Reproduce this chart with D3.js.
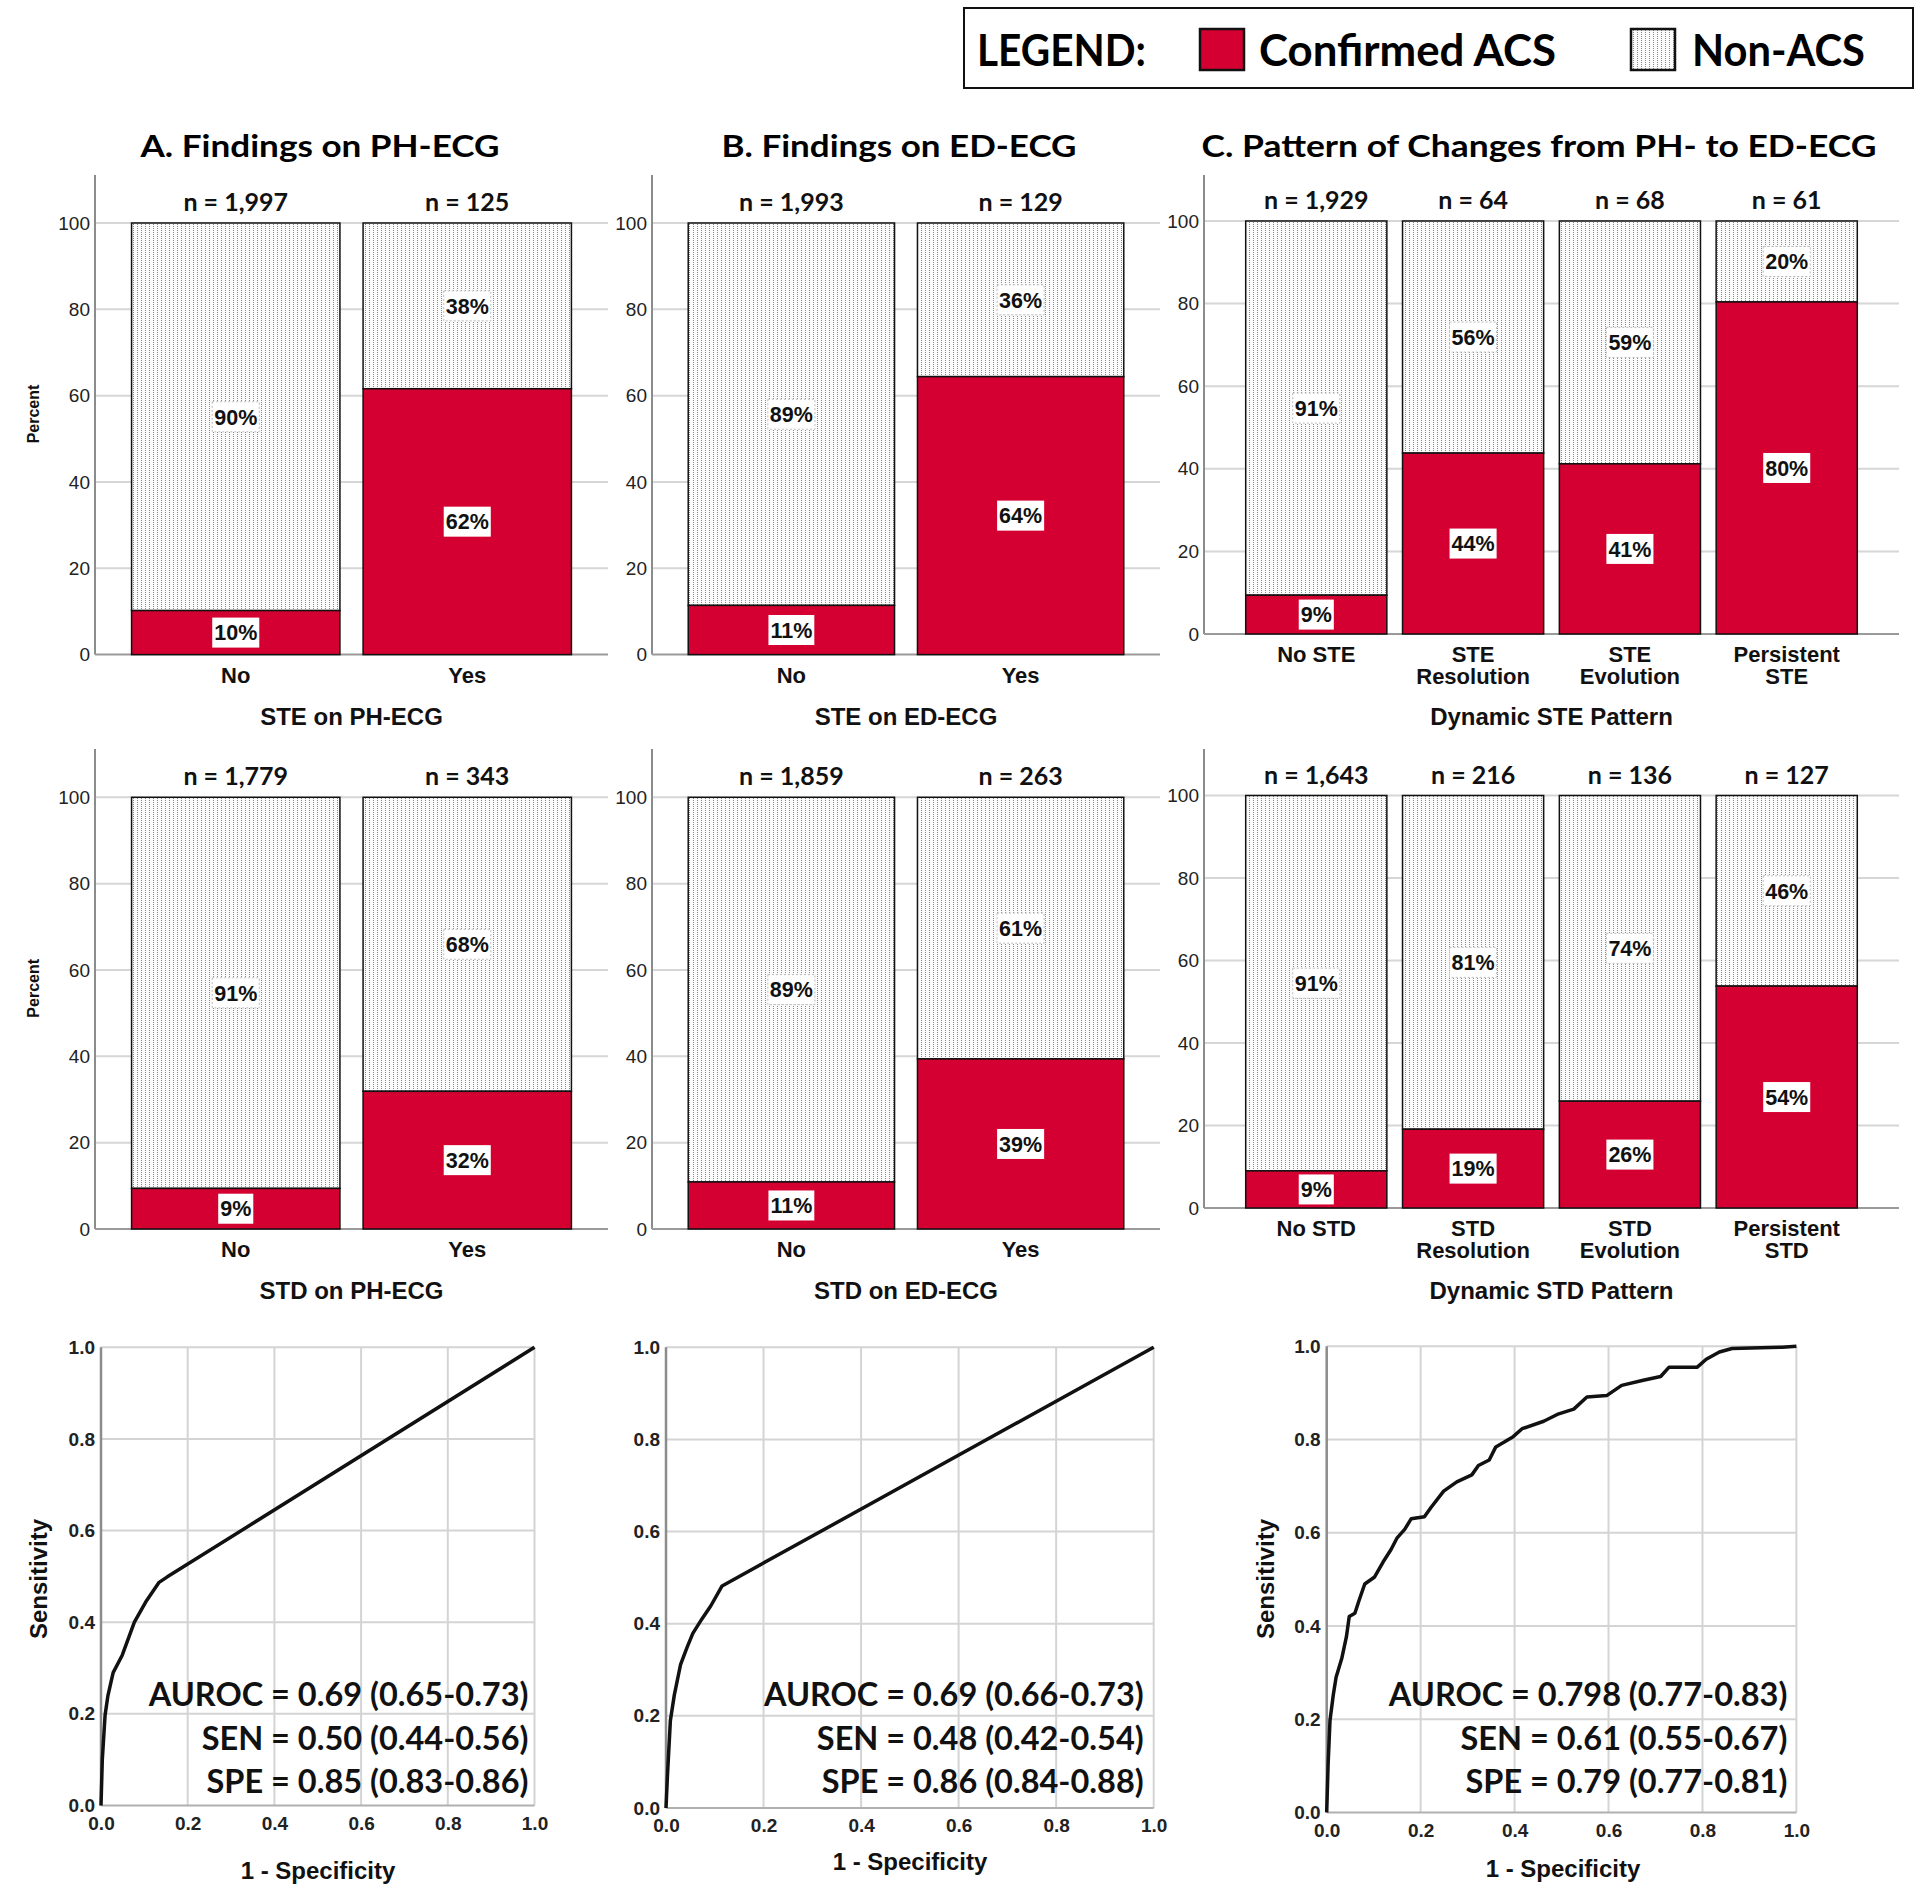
<!DOCTYPE html>
<html><head><meta charset="utf-8">
<script src="https://cdn.jsdelivr.net/npm/d3@7"></script>
<style>body{margin:0;background:#fff} svg{display:block}</style>
</head><body>
<svg id="c" width="1920" height="1891"></svg>
<script>
// ---------------- DATA ----------------
const legendLabel = "LEGEND:";
const legendItems = ["Confirmed ACS", "Non-ACS"];
const panelTitles = ["A. Findings on PH-ECG", "B. Findings on ED-ECG", "C. Pattern of Changes from PH- to ED-ECG"];
const binaryCats = [["No"], ["Yes"]];
const steDynCats = [["No STE"], ["STE", "Resolution"], ["STE", "Evolution"], ["Persistent", "STE"]];
const stdDynCats = [["No STD"], ["STD", "Resolution"], ["STD", "Evolution"], ["Persistent", "STD"]];
const axisTitlesRow1 = ["STE on PH-ECG", "STE on ED-ECG", "Dynamic STE Pattern"];
const axisTitlesRow2 = ["STD on PH-ECG", "STD on ED-ECG", "Dynamic STD Pattern"];
const yLabel = "Percent";
const yTicks = [0, 20, 40, 60, 80, 100];

// percent Confirmed ACS per category (Non-ACS = remainder)
const acsSTEph = [10.2, 61.6];
const acsSTEed = [11.4, 64.4];
const acsSTEdyn = [9.4, 43.8, 41.2, 80.4];
const acsSTDph = [9.4, 31.9];
const acsSTDed = [10.9, 39.4];
const acsSTDdyn = [9.0, 19.1, 25.9, 53.8];
// n per category
const nSTEph = [1997, 125];
const nSTEed = [1993, 129];
const nSTEdyn = [1929, 64, 68, 61];
const nSTDph = [1779, 343];
const nSTDed = [1859, 263];
const nSTDdyn = [1643, 216, 136, 127];

// ROC curves: [1 - specificity, sensitivity]
const rocTicks = [0, 0.2, 0.4, 0.6, 0.8, 1.0];
const rocXLabel = "1 - Specificity";
const rocYLabel = "Sensitivity";
const rocPH = [[0,0],[0.003,0.1],[0.0094,0.197],[0.016,0.24],[0.028,0.29],[0.049,0.328],[0.077,0.40],[0.105,0.447],[0.134,0.487],[0.153,0.499],[1,1]];
const rocED = [[0,0],[0.003,0.071],[0.009,0.19],[0.017,0.245],[0.03,0.312],[0.043,0.348],[0.055,0.379],[0.074,0.411],[0.092,0.439],[0.115,0.482],[1,1]];
const rocDyn = [[0,0],[0.003,0.103],[0.007,0.197],[0.014,0.252],[0.02,0.29],[0.032,0.33],[0.042,0.377],[0.048,0.42],[0.06,0.427],[0.069,0.455],[0.081,0.49],[0.102,0.505],[0.12,0.537],[0.137,0.564],[0.15,0.589],[0.166,0.607],[0.18,0.63],[0.208,0.634],[0.222,0.654],[0.249,0.689],[0.277,0.709],[0.309,0.724],[0.323,0.744],[0.346,0.756],[0.36,0.784],[0.379,0.795],[0.397,0.806],[0.416,0.823],[0.462,0.839],[0.494,0.855],[0.526,0.865],[0.554,0.891],[0.596,0.894],[0.628,0.916],[0.674,0.927],[0.711,0.935],[0.729,0.955],[0.789,0.955],[0.808,0.972],[0.836,0.9875],[0.863,0.995],[0.97,0.998],[1,1]];
const statsPH = ["AUROC = 0.69 (0.65-0.73)", "SEN = 0.50 (0.44-0.56)", "SPE = 0.85 (0.83-0.86)"];
const statsED = ["AUROC = 0.69 (0.66-0.73)", "SEN = 0.48 (0.42-0.54)", "SPE = 0.86 (0.84-0.88)"];
const statsDyn = ["AUROC = 0.798 (0.77-0.83)", "SEN = 0.61 (0.55-0.67)", "SPE = 0.79 (0.77-0.81)"];

// ---------------- STYLE ----------------
const ARIAL = "'Liberation Sans', Arial, sans-serif";
const CAL = "Lato, 'Open Sans', sans-serif";
const RED = "#d40031";
const svg = d3.select("#c");

const defs = svg.append("defs");
const pat = defs.append("pattern").attr("id", "dots").attr("patternUnits", "userSpaceOnUse")
  .attr("width", 4).attr("height", 2);
pat.append("rect").attr("width", 4).attr("height", 2).attr("fill", "#fbfbfb");
pat.append("rect").attr("x", 1).attr("y", 0).attr("width", 1).attr("height", 1).attr("fill", "#8a8a8a");

function fitText(sel, len) {
  sel.attr("textLength", len).attr("lengthAdjust", "spacingAndGlyphs");
}

// ---------------- LEGEND ----------------
const lg = svg.append("g");
lg.append("rect").attr("x", 964).attr("y", 8).attr("width", 949).attr("height", 80)
  .attr("fill", "#fff").attr("stroke", "#111").attr("stroke-width", 2);
lg.append("text").attr("x", 977).attr("y", 66).attr("font-family", CAL).attr("font-weight", 700)
  .attr("font-size", 44).text(legendLabel).call(fitText, 169);
lg.append("rect").attr("x", 1200).attr("y", 29).attr("width", 44).attr("height", 41)
  .attr("fill", RED).attr("stroke", "#111").attr("stroke-width", 2.5);
lg.append("text").attr("x", 1259).attr("y", 66).attr("font-family", CAL).attr("font-weight", 700)
  .attr("font-size", 44).text(legendItems[0]).call(fitText, 297);
lg.append("rect").attr("x", 1631).attr("y", 29).attr("width", 44).attr("height", 41)
  .attr("fill", "url(#dots)").attr("stroke", "#111").attr("stroke-width", 2.5);
lg.append("text").attr("x", 1692).attr("y", 66).attr("font-family", CAL).attr("font-weight", 700)
  .attr("font-size", 44).text(legendItems[1]).call(fitText, 173);

// ---------------- TITLES ----------------
const titleLayout = [{cx: 320, w: 359}, {cx: 899, w: 355}, {cx: 1539, w: 675}];
panelTitles.forEach((t, i) => {
  svg.append("text").attr("x", titleLayout[i].cx).attr("y", 157).attr("text-anchor", "middle")
    .attr("font-family", CAL).attr("font-weight", 700).attr("font-size", 30).text(t)
    .call(fitText, titleLayout[i].w);
});

// ---------------- BAR PANELS ----------------
function barPanel(o) {
  const g = svg.append("g");
  const k = o.cats.length;
  const x = d3.scaleBand().domain(d3.range(k)).range([o.x0, o.x1])
    .paddingInner(0.1).paddingOuter(k === 2 ? 0.158 : 0.266);
  const y = d3.scaleLinear().domain([0, 100]).range([o.y0, o.y100]);

  g.selectAll("line.grid").data(yTicks.filter(t => t > 0)).join("line")
    .attr("x1", o.x0).attr("x2", o.x1).attr("y1", d => y(d)).attr("y2", d => y(d))
    .attr("stroke", "#d6d6d6").attr("stroke-width", 2);

  const ax = g.append("g").attr("transform", `translate(${o.x0},0)`)
    .call(d3.axisLeft(y).tickValues(yTicks).tickSize(0).tickPadding(5));
  ax.select(".domain").remove();
  ax.selectAll("text").attr("font-family", ARIAL).attr("font-size", 19).attr("fill", "#222");

  g.append("line").attr("x1", o.x0).attr("x2", o.x0).attr("y1", o.top).attr("y2", o.y0)
    .attr("stroke", "#8c8c8c").attr("stroke-width", 2);
  g.append("line").attr("x1", o.x0).attr("x2", o.x1).attr("y1", o.y0).attr("y2", o.y0)
    .attr("stroke", "#9a9a9a").attr("stroke-width", 2);

  const bars = g.selectAll("g.bar").data(o.acs).join("g");
  bars.append("rect").attr("x", (d, i) => x(i)).attr("width", x.bandwidth())
    .attr("y", y(100)).attr("height", d => y(d) - y(100))
    .attr("fill", "url(#dots)").attr("stroke", "#111").attr("stroke-width", 1.5);
  bars.append("rect").attr("x", (d, i) => x(i)).attr("width", x.bandwidth())
    .attr("y", d => y(d)).attr("height", d => y(0) - y(d))
    .attr("fill", RED).attr("stroke", "#111").attr("stroke-width", 1.5);

  function pctLabel(cx, cy, txt, dashed) {
    const lgp = g.append("g");
    const r = lgp.append("rect");
    const t = lgp.append("text").attr("x", cx).attr("y", cy).attr("dy", "0.36em")
      .attr("text-anchor", "middle").attr("font-family", ARIAL).attr("font-weight", 700)
      .attr("font-size", 21.5).attr("fill", "#111").text(txt);
    const b = t.node().getBBox();
    r.attr("x", b.x - 2).attr("y", cy - 15).attr("width", b.width + 4).attr("height", 30)
      .attr("fill", "#fff").attr("stroke", dashed ? "#bdbdbd" : "none")
      .attr("stroke-dasharray", dashed ? "2,2" : null).attr("stroke-width", 1);
  }
  o.acs.forEach((v, i) => {
    const cx = x(i) + x.bandwidth() / 2;
    pctLabel(cx, y(v / 2), Math.round(v) + "%", false);
    pctLabel(cx, y((100 + v) / 2), Math.round(100 - v) + "%", true);
  });

  const fmt = d3.format(",");
  g.selectAll("text.n").data(o.n).join("text")
    .attr("x", (d, i) => x(i) + x.bandwidth() / 2).attr("y", o.y100 - 12)
    .attr("text-anchor", "middle").attr("font-family", CAL).attr("font-weight", 700)
    .attr("font-size", 25).attr("fill", "#111").text(d => "n = " + fmt(d));

  o.cats.forEach((lines, i) => {
    const t = g.append("text").attr("text-anchor", "middle").attr("font-family", ARIAL)
      .attr("font-weight", 700).attr("font-size", 22).attr("fill", "#111");
    lines.forEach((ln, j) => {
      t.append("tspan").attr("x", x(i) + x.bandwidth() / 2).attr("y", o.y0 + 28 + j * 22).text(ln);
    });
  });

  g.append("text").attr("x", (o.x0 + o.x1) / 2).attr("y", o.titleY).attr("text-anchor", "middle")
    .attr("font-family", ARIAL).attr("font-weight", 700).attr("font-size", 24).attr("fill", "#111")
    .text(o.axisTitle);

  if (o.showY) {
    g.append("text").attr("transform", `translate(33,${o.y100 + 191}) rotate(-90)`)
      .attr("text-anchor", "middle").attr("dy", "0.35em").attr("font-family", ARIAL)
      .attr("font-weight", 700).attr("font-size", 16).attr("fill", "#111").text(yLabel);
  }
}

const cols = [{x0: 95, x1: 608}, {x0: 652, x1: 1160}, {x0: 1204, x1: 1899}];
const row1 = {top: 175, titleY: 725, ab: {y0: 654.6, y100: 223}, c: {y0: 634, y100: 221}};
const row2 = {top: 749, titleY: 1298.5, ab: {y0: 1229, y100: 797.3}, c: {y0: 1208, y100: 795.5}};

barPanel({...cols[0], ...row1.ab, top: row1.top, titleY: row1.titleY, cats: binaryCats, acs: acsSTEph, n: nSTEph, axisTitle: axisTitlesRow1[0], showY: true});
barPanel({...cols[1], ...row1.ab, top: row1.top, titleY: row1.titleY, cats: binaryCats, acs: acsSTEed, n: nSTEed, axisTitle: axisTitlesRow1[1]});
barPanel({...cols[2], ...row1.c, top: row1.top, titleY: row1.titleY, cats: steDynCats, acs: acsSTEdyn, n: nSTEdyn, axisTitle: axisTitlesRow1[2]});
barPanel({...cols[0], ...row2.ab, top: row2.top, titleY: row2.titleY, cats: binaryCats, acs: acsSTDph, n: nSTDph, axisTitle: axisTitlesRow2[0], showY: true});
barPanel({...cols[1], ...row2.ab, top: row2.top, titleY: row2.titleY, cats: binaryCats, acs: acsSTDed, n: nSTDed, axisTitle: axisTitlesRow2[1]});
barPanel({...cols[2], ...row2.c, top: row2.top, titleY: row2.titleY, cats: stdDynCats, acs: acsSTDdyn, n: nSTDdyn, axisTitle: axisTitlesRow2[2]});

// ---------------- ROC PANELS ----------------
function rocPanel(o) {
  const g = svg.append("g");
  const x = d3.scaleLinear().domain([0, 1]).range([o.x0, o.x1]);
  const y = d3.scaleLinear().domain([0, 1]).range([o.y0, o.y1]);
  g.selectAll("line.vg").data(rocTicks.filter(t => t > 0)).join("line")
    .attr("x1", d => x(d)).attr("x2", d => x(d)).attr("y1", o.y0).attr("y2", o.y1)
    .attr("stroke", "#d4d4d4").attr("stroke-width", 2);
  g.selectAll("line.hg").data(rocTicks.filter(t => t > 0)).join("line")
    .attr("x1", o.x0).attr("x2", o.x1).attr("y1", d => y(d)).attr("y2", d => y(d))
    .attr("stroke", "#d4d4d4").attr("stroke-width", 2);
  g.append("line").attr("x1", o.x0).attr("x2", o.x1).attr("y1", o.y0).attr("y2", o.y0)
    .attr("stroke", "#b0b0b0").attr("stroke-width", 2);
  g.append("line").attr("x1", o.x0).attr("x2", o.x0).attr("y1", o.y0).attr("y2", o.y1)
    .attr("stroke", "#8c8c8c").attr("stroke-width", 2.5);

  const f = d3.format(".1f");
  const ay = g.append("g").attr("transform", `translate(${o.x0},0)`)
    .call(d3.axisLeft(y).tickValues(rocTicks).tickFormat(f).tickSize(0).tickPadding(6));
  ay.select(".domain").remove();
  const axx = g.append("g").attr("transform", `translate(0,${o.y0})`)
    .call(d3.axisBottom(x).tickValues(rocTicks).tickFormat(f).tickSize(0).tickPadding(11));
  axx.select(".domain").remove();
  g.selectAll(".tick text").attr("font-family", ARIAL).attr("font-weight", 700)
    .attr("font-size", 19).attr("fill", "#222");

  g.append("path").datum(o.pts)
    .attr("d", d3.line().x(d => x(d[0])).y(d => y(d[1])))
    .attr("fill", "none").attr("stroke", "#111").attr("stroke-width", 3.5)
    .attr("stroke-linejoin", "round");

  g.selectAll("text.st").data(o.stats).join("text")
    .attr("x", o.x1 - o.statPad).attr("y", (d, i) => 1706 + i * 43.5).attr("text-anchor", "end")
    .attr("font-family", CAL).attr("font-weight", 700).attr("font-size", 32.5).attr("fill", "#111")
    .text(d => d);

  g.append("text").attr("x", o.xlabX).attr("y", o.xlabY).attr("text-anchor", "middle")
    .attr("font-family", ARIAL).attr("font-weight", 700).attr("font-size", 24).attr("fill", "#111")
    .text(rocXLabel);
  if (o.ylabX) {
    g.append("text").attr("transform", `translate(${o.ylabX},1579) rotate(-90)`)
      .attr("text-anchor", "middle").attr("dy", "0.35em").attr("font-family", ARIAL)
      .attr("font-weight", 700).attr("font-size", 24).attr("fill", "#111").text(rocYLabel);
  }
}

rocPanel({x0: 101, x1: 534.5, y0: 1805.5, y1: 1347.3, pts: rocPH, stats: statsPH, statPad: 6, xlabX: 318, xlabY: 1879, ylabX: 39});
rocPanel({x0: 666, x1: 1153.7, y0: 1808, y1: 1347.3, pts: rocED, stats: statsED, statPad: 10, xlabX: 910, xlabY: 1870});
rocPanel({x0: 1326.7, x1: 1796.4, y0: 1812.4, y1: 1346.2, pts: rocDyn, stats: statsDyn, statPad: 9, xlabX: 1563, xlabY: 1877, ylabX: 1266});
</script>
</body></html>
